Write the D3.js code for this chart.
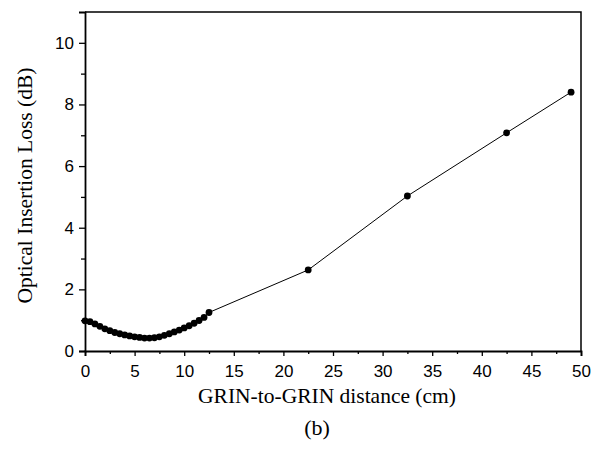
<!DOCTYPE html>
<html>
<head>
<meta charset="utf-8">
<script src="https://cdn.jsdelivr.net/npm/d3@7"></script>
<style>
  html, body { margin: 0; padding: 0; background: #fff; }
  .tick text { font-family: "Liberation Sans", Arial, sans-serif; font-size: 17px; fill: #000; }
  .axis-title { font-family: "Liberation Serif", "Times New Roman", serif; font-size: 21.5px; fill: #000; }
</style>
</head>
<body>
<div id="chart"></div>
<script>
// distance between the two GRIN lenses (cm)
var distance = [0, 0.5, 1, 1.5, 2, 2.5, 3, 3.5, 4, 4.5, 5, 5.5, 6, 6.5, 7, 7.5, 8, 8.5, 9, 9.5,
  10, 10.5, 11, 11.5, 12, 12.5, 22.5, 32.5, 42.5, 49];
// optical insertion loss (dB)
var loss = [0.98, 0.95, 0.88, 0.80, 0.72, 0.66, 0.60, 0.56, 0.52, 0.49, 0.46, 0.44, 0.42, 0.42, 0.43, 0.46,
  0.51, 0.56, 0.62, 0.68, 0.75, 0.82, 0.90, 0.99, 1.09, 1.25, 2.63, 5.03, 7.08, 8.40];

var xTicks = [0, 5, 10, 15, 20, 25, 30, 35, 40, 45, 50];
var xMinor = [2.5, 7.5, 12.5, 17.5, 22.5, 27.5, 32.5, 37.5, 42.5, 47.5];
var yTicks = [0, 2, 4, 6, 8, 10];
var yMinor = [1, 3, 5, 7, 9];

var W = 596, H = 458;
var margin = {left: 85, top: 12, right: 15, bottom: 107};
var width = W - margin.left - margin.right,
    height = H - margin.top - margin.bottom;

var svg = d3.select('#chart')
  .append('svg')
    .attr('width', W)
    .attr('height', H)
  .append('g')
    .attr('transform', 'translate(' + margin.left + ',' + margin.top + ')');

var x = d3.scaleLinear().domain([0, 50]).range([0, width]);
var y = d3.scaleLinear().domain([0, 11]).range([height, 0]);

// frame (top + right)
svg.append('path')
  .attr('d', 'M0,0H' + width + 'V' + height)
  .attr('fill', 'none')
  .attr('stroke', '#000')
  .attr('stroke-width', 1.5);

svg.append('g')
  .attr('transform', 'translate(0,' + height + ')')
  .call(d3.axisBottom(x).tickValues(xTicks).tickSize(5).tickPadding(9).tickFormat(d3.format('d')));
svg.append('g')
  .attr('transform', 'translate(0,' + height + ')')
  .call(d3.axisBottom(x).tickValues(xMinor).tickSize(3).tickFormat(''))
  .select('.domain').remove();

svg.append('g')
  .call(d3.axisLeft(y).tickValues(yTicks).tickSize(6).tickPadding(5).tickFormat(d3.format('d')));
svg.append('g')
  .call(d3.axisLeft(y).tickValues(yMinor).tickSize(4).tickFormat(''))
  .select('.domain').remove();

svg.selectAll('.domain').attr('stroke-width', 1.8);
svg.selectAll('.tick line').attr('stroke-width', 1.3);

var pts = distance.map(function(d, i){ return [d, loss[i]]; });

svg.append('path')
  .datum(pts)
  .attr('fill', 'none')
  .attr('stroke', '#000')
  .attr('stroke-width', 1)
  .attr('d', d3.line().x(function(d){ return x(d[0]); }).y(function(d){ return y(d[1]); }));

svg.selectAll('circle.pt')
  .data(pts)
  .enter().append('circle')
    .attr('class', 'pt')
    .attr('cx', function(d){ return x(d[0]); })
    .attr('cy', function(d){ return y(d[1]); })
    .attr('r', 3.4)
    .attr('fill', '#000');

svg.append('text')
  .attr('class', 'axis-title')
  .attr('text-anchor', 'middle')
  .attr('x', width / 2 - 6)
  .attr('y', height + 52)
  .text('GRIN-to-GRIN distance (cm)');

svg.append('text')
  .attr('class', 'axis-title')
  .attr('text-anchor', 'middle')
  .attr('transform', 'translate(' + (-53) + ',' + (height / 2 + 4) + ') rotate(-90)')
  .text('Optical Insertion Loss (dB)');

svg.append('text')
  .attr('class', 'axis-title')
  .attr('text-anchor', 'middle')
  .style('font-size', '22px')
  .attr('x', width / 2 - 16)
  .attr('y', height + 84)
  .text('(b)');
</script>
</body>
</html>
